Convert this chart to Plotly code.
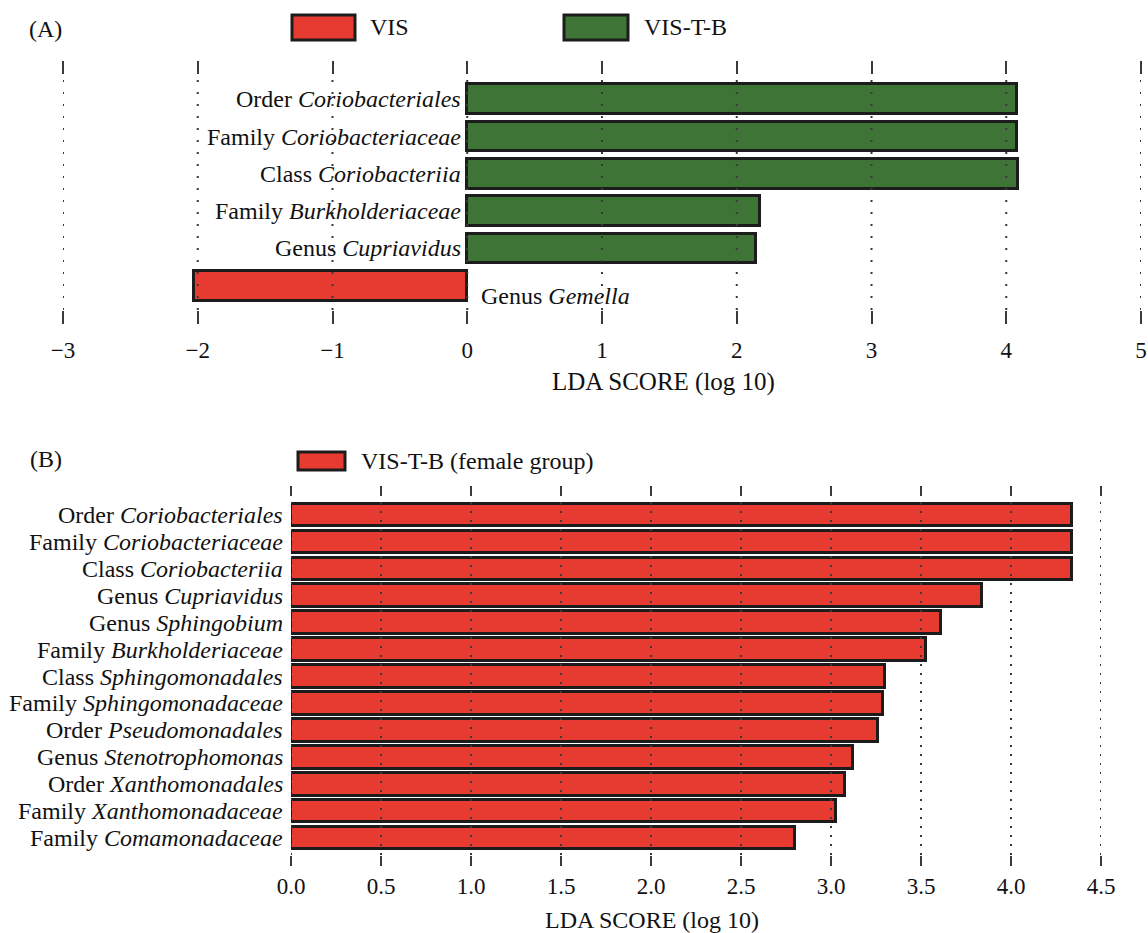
import plotly.graph_objects as go

# ---------------- data ----------------
# Panel A: LDA scores for VIS vs VIS-T-B (negative = enriched in VIS)
a_rank = ["Order", "Family", "Class", "Family", "Genus", "Genus"]
a_taxa = ["Coriobacteriales", "Coriobacteriaceae", "Coriobacteriia",
          "Burkholderiaceae", "Cupriavidus", "Gemella"]
a_scores = [4.08, 4.08, 4.09, 2.17, 2.14, -2.03]
a_ticks = [-3, -2, -1, 0, 1, 2, 3, 4, 5]

# Panel B: LDA scores for the VIS-T-B female group
b_rank = ["Order", "Family", "Class", "Genus", "Genus", "Family", "Class",
          "Family", "Order", "Genus", "Order", "Family", "Family"]
b_taxa = ["Coriobacteriales", "Coriobacteriaceae", "Coriobacteriia",
          "Cupriavidus", "Sphingobium", "Burkholderiaceae", "Sphingomonadales",
          "Sphingomonadaceae", "Pseudomonadales", "Stenotrophomonas",
          "Xanthomonadales", "Xanthomonadaceae", "Comamonadaceae"]
b_scores = [4.34, 4.34, 4.34, 3.84, 3.61, 3.53, 3.30, 3.29, 3.26, 3.12,
            3.08, 3.03, 2.80]
b_ticks = [0.0, 0.5, 1.0, 1.5, 2.0, 2.5, 3.0, 3.5, 4.0, 4.5]

# ---------------- style ----------------
W, H = 1148, 933
RED = "#E73A30"
GREEN = "#3F7437"
EDGE = "#1c1c1c"
GRID = "#3a3a3a"
FONT = "Liberation Serif"
TXT = 24


def px_x(p):
    return p / W


def px_y(p):
    return 1 - p / H


fig = go.Figure()

# panel A bars
a_ids = [f"a{i}" for i in range(len(a_taxa))]
a_colors = [GREEN if v > 0 else RED for v in a_scores]
fig.add_trace(go.Bar(
    x=a_scores, y=a_ids, orientation="h", xaxis="x", yaxis="y",
    marker=dict(color=a_colors, line=dict(color=EDGE, width=3)),
    width=0.8, showlegend=False, hoverinfo="x+y",
))

# panel B bars
b_ids = [f"b{i}" for i in range(len(b_taxa))]
fig.add_trace(go.Bar(
    x=b_scores, y=b_ids, orientation="h", xaxis="x2", yaxis="y2",
    marker=dict(color=RED, line=dict(color=EDGE, width=3)),
    width=0.84, showlegend=False, hoverinfo="x+y",
))

annotations = []
shapes = []

# taxon labels at the zero line
for rid, rank, taxon, v in zip(a_ids, a_rank, a_taxa, a_scores):
    if v > 0:
        annotations.append(dict(x=0, y=rid, xref="x", yref="y",
                                text=f"{rank} <i>{taxon}</i>", showarrow=False,
                                xanchor="right", xshift=-4,
                                font=dict(family=FONT, size=TXT, color="#111")))
    else:
        annotations.append(dict(x=0, y=rid, xref="x", yref="y",
                                text=f"{rank} <i>{taxon}</i>", showarrow=False,
                                xanchor="left", xshift=12, yshift=-10,
                                font=dict(family=FONT, size=TXT, color="#111")))

for rid, rank, taxon in zip(b_ids, b_rank, b_taxa):
    annotations.append(dict(x=0, y=rid, xref="x2", yref="y2",
                            text=f"{rank} <i>{taxon}</i>", showarrow=False,
                            xanchor="right", xshift=-6,
                            font=dict(family=FONT, size=TXT, color="#111")))

# dotted grid lines drawn over the bars
for t in a_ticks:
    shapes.append(dict(type="line", xref="x", yref="y domain", x0=t, x1=t,
                       y0=0, y1=1, layer="above",
                       line=dict(color=GRID, width=2, dash="2px,10px")))
for t in b_ticks:
    shapes.append(dict(type="line", xref="x2", yref="y2 domain", x0=t, x1=t,
                       y0=0, y1=1, layer="above",
                       line=dict(color=GRID, width=2, dash="2px,7px")))

# legend boxes
def legend_box(x0, x1, y0, y1, color, label, tx):
    shapes.append(dict(type="rect", xref="paper", yref="paper",
                       x0=px_x(x0), x1=px_x(x1), y0=px_y(y1), y1=px_y(y0),
                       fillcolor=color, line=dict(color=EDGE, width=3)))
    annotations.append(dict(x=px_x(tx), y=px_y((y0 + y1) / 2), xref="paper",
                            yref="paper", text=label, showarrow=False,
                            xanchor="left", yanchor="middle",
                            font=dict(family=FONT, size=TXT, color="#111")))


legend_box(292, 355, 15, 40, RED, "VIS", 368)
legend_box(564, 628, 15, 40, GREEN, "VIS-T-B", 642)
legend_box(298, 345, 452, 470, RED, "VIS-T-B (female group)", 359)

# panel tags and axis titles
for tag, cx, cy in [("(A)", 45, 29), ("(B)", 46, 459)]:
    annotations.append(dict(x=px_x(cx), y=px_y(cy), xref="paper", yref="paper",
                            text=tag, showarrow=False, xanchor="center",
                            yanchor="middle",
                            font=dict(family=FONT, size=TXT, color="#111")))
for cx, cy, fs in [(663, 382, 25), (652, 920, 24)]:
    annotations.append(dict(x=px_x(cx), y=px_y(cy), xref="paper", yref="paper",
                            text="LDA SCORE (log 10)", showarrow=False,
                            xanchor="center", yanchor="middle",
                            font=dict(family=FONT, size=fs, color="#111")))

tick_common = dict(ticks="outside", tickwidth=2, tickcolor=GRID, mirror="ticks",
                   showline=False, showgrid=False, zeroline=False,
                   automargin=False,
                   tickfont=dict(family=FONT, size=23, color="#111"))

fig.update_layout(
    width=W, height=H,
    margin=dict(l=0, r=0, t=0, b=0, autoexpand=False),
    paper_bgcolor="white", plot_bgcolor="white",
    bargap=0,
    xaxis=dict(domain=[px_x(63), px_x(1141)], range=[-3, 5],
               tickvals=a_ticks, ticklen=13, ticklabelstandoff=6,
               anchor="y", **tick_common),
    yaxis=dict(domain=[px_y(310), px_y(75)], type="category",
               categoryorder="array", categoryarray=a_ids,
               range=[5.65, -0.65], showticklabels=False, ticks="",
               showgrid=False, zeroline=False, showline=False,
               automargin=False, anchor="x"),
    xaxis2=dict(domain=[px_x(291), px_x(1101)], range=[0, 4.5],
                tickvals=b_ticks, ticktext=[f"{t:.1f}" for t in b_ticks],
                ticklen=10, anchor="y2", **tick_common),
    yaxis2=dict(domain=[px_y(855), px_y(497)], type="category",
                categoryorder="array", categoryarray=b_ids,
                range=[12.63, -0.67], showticklabels=False, ticks="",
                showgrid=False, zeroline=False, showline=False,
                automargin=False, anchor="x2"),
    annotations=annotations,
    shapes=shapes,
)

fig.write_html("out.html")
